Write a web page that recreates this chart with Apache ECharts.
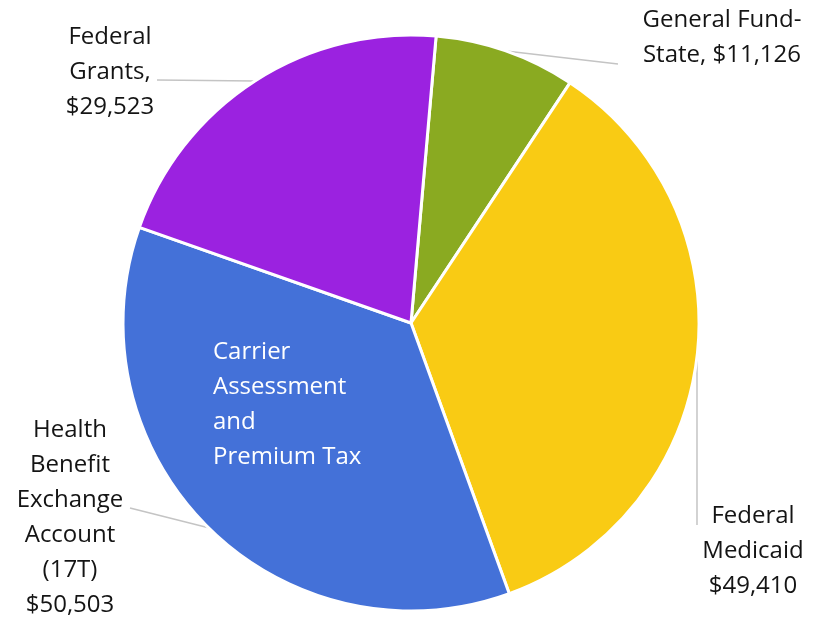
<!DOCTYPE html>
<html>
<head>
<meta charset="utf-8">
<script src="https://cdn.jsdelivr.net/npm/echarts@6/dist/echarts.min.js"></script>
<style>
html,body{margin:0;padding:0;background:#fff;}
#chart{width:817px;height:622px;}
</style>
</head>
<body>
<div id="chart"></div>
<script>
// Data
const categories = ['General Fund-\nState', 'Federal\nMedicaid', 'Health\nBenefit\nExchange\nAccount\n(17T)', 'Federal\nGrants'];
const separators = [', ', '\n', '\n', ',\n'];
const values = [11126, 49410, 50503, 29523];
const colors = ['#8aaa21', '#f9cb14', '#4471d8', '#9b22e0'];
const innerNote = 'Carrier\nAssessment\nand\nPremium Tax';

// label layout (text centers and leader-line end points, in px)
const labelPos = [[722, 38], [753, 551], [70, 518], [110, 72]];
const lineEnd = [[618, 64], [697, 525], [130, 508], [157, 80]];

const FONT = '"Open Sans", sans-serif';
const chart = echarts.init(document.getElementById('chart'), null, {renderer: 'canvas'});

function fmt(v) { return '$' + v.toLocaleString('en-US'); }

chart.setOption({
  animation: false,
  series: [{
    type: 'pie',
    center: [411, 323],
    radius: 288,
    startAngle: 85,
    clockwise: true,
    avoidLabelOverlap: false,
    itemStyle: { borderColor: '#ffffff', borderWidth: 3 },
    label: {
      show: true,
      position: 'outside',
      fontFamily: FONT,
      fontSize: 24,
      lineHeight: 35,
      color: '#141414',
      align: 'center',
      formatter: function (p) { return categories[p.dataIndex] + separators[p.dataIndex] + fmt(values[p.dataIndex]); }
    },
    labelLine: { show: true, length: 20, length2: 20, smooth: false, lineStyle: { color: '#c4c4c4', width: 1.5 } },
    labelLayout: function (params) {
      const i = params.dataIndex;
      const pts = params.labelLinePoints;
      const start = pts ? pts[0] : null;
      const out = { x: labelPos[i][0], y: labelPos[i][1], align: 'center', verticalAlign: 'middle' };
      if (start) out.labelLinePoints = [start, lineEnd[i], lineEnd[i]];
      return out;
    },
    data: values.map(function (v, i) {
      return { name: categories[i], value: v, itemStyle: { color: colors[i] } };
    })
  }],
  graphic: {
    elements: [{
      type: 'text',
      left: 213,
      top: 335,
      z: 100,
      zlevel: 1,
      style: {
        text: innerNote,
        fill: '#ffffff',
        font: '24px ' + FONT,
        lineHeight: 35,
        textAlign: 'left'
      }
    }]
  }
});
</script>
</body>
</html>
